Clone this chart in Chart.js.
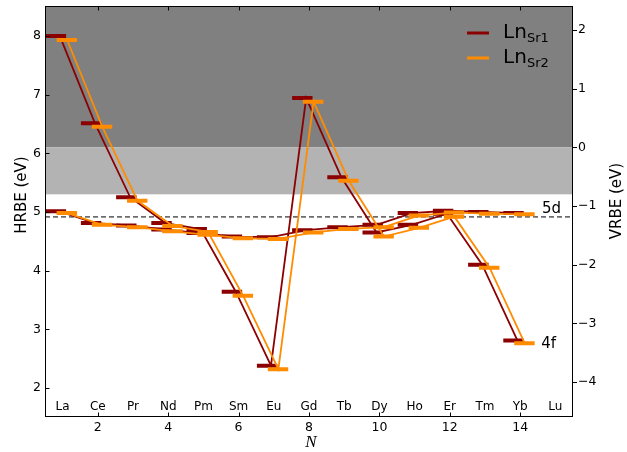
<!DOCTYPE html>
<html>
<head>
<meta charset="utf-8">
<script src="https://cdn.jsdelivr.net/npm/chart.js@4.4.1/dist/chart.umd.min.js"></script>
<style>
  body { margin: 0; background: #fff; }
  #wrap { width: 627px; height: 452px; }
</style>
</head>
<body>
<div id="wrap"><canvas id="chart" width="627" height="452"></canvas></div>
<script>
const elements = ['La', 'Ce', 'Pr', 'Nd', 'Pm', 'Sm', 'Eu', 'Gd', 'Tb', 'Dy', 'Ho', 'Er', 'Tm', 'Yb', 'Lu']
const nValues = [1, 2, 3, 4, 5, 6, 7, 8, 9, 10, 11, 12, 13, 14, 15]

// HRBE (eV), La..Yb (Lu has no level)
const sr1_4f = [8.00, 6.51, 5.25, 4.81, 4.71, 3.64, 2.38, 6.94, 5.59, 4.65, 4.78, 4.97, 4.10, 2.81]
const sr2_4f = [7.93, 6.45, 5.19, 4.76, 4.66, 3.57, 2.32, 6.88, 5.53, 4.58, 4.73, 4.92, 4.05, 2.76]
const sr1_5d = [5.01, 4.81, 4.77, 4.70, 4.64, 4.58, 4.57, 4.69, 4.74, 4.78, 4.98, 5.02, 5.00, 4.98]
const sr2_5d = [4.98, 4.78, 4.74, 4.67, 4.61, 4.55, 4.54, 4.65, 4.71, 4.74, 4.94, 4.99, 4.97, 4.96]

const nTicks = [2, 4, 6, 8, 10, 12, 14]
const hrbeTicks = [2, 3, 4, 5, 6, 7, 8]
const vrbeTicks = [-4, -3, -2, -1, 0, 1, 2]

const vacuumLevel = 6.1     // HRBE where VRBE = 0
const cbBottom = 5.3
const dashedLevel = 4.915

const hrbeMin = 1.505
const hrbeMax = 8.51

const RED = '#8b0000'
const ORANGE = '#ff8c00'

// short horizontal bars for each level
function barPoints(vals, lo, hi) {
    const pts = []
    vals.forEach((v, i) => {
        const n = nValues[i]
        pts.push({ x: n + lo, y: v }, { x: n + hi, y: v }, { x: n + hi, y: null })
    })
    return pts
}

function linePoints(vals, off) {
    return vals.map((v, i) => ({ x: nValues[i] + off, y: v }))
}

function lineSet(data, color, width, order) {
    return {
        data: data, borderColor: color, borderWidth: width, pointRadius: 0,
        fill: false, tension: 0, spanGaps: false, order: order, borderCapStyle: 'butt'
    }
}

const datasets = [
    Object.assign(lineSet([{ x: 0.5, y: dashedLevel }, { x: 15.5, y: dashedLevel }], '#000', 1, 10), { borderDash: [5, 3] }),
    lineSet(linePoints(sr1_4f, -0.08), RED, 1.8, 6),
    lineSet(linePoints(sr1_5d, -0.08), RED, 1.8, 6),
    lineSet(barPoints(sr1_4f, -0.48, 0.10), RED, 4, 5),
    lineSet(barPoints(sr1_5d, -0.48, 0.10), RED, 4, 5),
    lineSet(linePoints(sr2_4f, 0.13), ORANGE, 1.8, 4),
    lineSet(linePoints(sr2_5d, 0.13), ORANGE, 1.8, 4),
    lineSet(barPoints(sr2_4f, -0.17, 0.41), ORANGE, 4, 3),
    lineSet(barPoints(sr2_5d, -0.17, 0.41), ORANGE, 4, 3)
]

const decor = {
    id: 'decor',
    beforeDatasetsDraw(chart) {
        const { ctx, chartArea: a, scales } = chart
        const y = scales.y
        ctx.save()
        ctx.fillStyle = '#808080'
        ctx.fillRect(a.left, a.top, a.right - a.left, y.getPixelForValue(vacuumLevel) - a.top)
        ctx.fillStyle = '#b3b3b3'
        ctx.fillRect(a.left, y.getPixelForValue(vacuumLevel), a.right - a.left,
            y.getPixelForValue(cbBottom) - y.getPixelForValue(vacuumLevel))
        ctx.restore()
    },
    afterDraw(chart) {
        const { ctx, chartArea: a, scales } = chart
        const x = scales.x, y = scales.y, y2 = scales.y2
        ctx.save()
        ctx.strokeStyle = '#000'
        ctx.lineWidth = 1
        ctx.strokeRect(a.left + 0.5, a.top + 0.5, a.right - a.left - 1, a.bottom - a.top - 1)

        // ticks
        ctx.beginPath()
        hrbeTicks.forEach(v => {
            const py = Math.round(y.getPixelForValue(v)) + 0.5
            ctx.moveTo(a.left, py); ctx.lineTo(a.left + 4.5, py)
        })
        nTicks.forEach(v => {
            const px = Math.round(x.getPixelForValue(v)) + 0.5
            ctx.moveTo(px, a.bottom); ctx.lineTo(px, a.bottom - 4.5)
            ctx.moveTo(px, a.top); ctx.lineTo(px, a.top + 4.5)
        })
        vrbeTicks.forEach(v => {
            const py = Math.round(y2.getPixelForValue(v)) + 0.5
            ctx.moveTo(a.right, py); ctx.lineTo(a.right + 4, py)
        })
        ctx.stroke()

        // element names
        ctx.fillStyle = '#000'
        ctx.font = '12px "DejaVu Sans"'
        ctx.textAlign = 'center'
        ctx.textBaseline = 'middle'
        elements.forEach((el, i) => {
            ctx.fillText(el, x.getPixelForValue(nValues[i]), y.getPixelForValue(1.68))
        })

        // level labels
        ctx.font = '15px "DejaVu Sans"'
        ctx.textAlign = 'left'
        ctx.fillText('5d', x.getPixelForValue(14.62), y.getPixelForValue(5.05))
        ctx.fillText('4f', x.getPixelForValue(14.6), y.getPixelForValue(2.75))

        // legend
        const items = [[RED, 'Sr1', 33], [ORANGE, 'Sr2', 58]]
        items.forEach(([c, sub, ly]) => {
            ctx.strokeStyle = c
            ctx.lineWidth = 3
            ctx.beginPath()
            ctx.moveTo(467, ly); ctx.lineTo(489, ly)
            ctx.stroke()
            ctx.textBaseline = 'alphabetic'
            ctx.font = '20px "DejaVu Sans"'
            ctx.fillText('Ln', 503, ly + 4.5)
            ctx.font = '13px "DejaVu Sans"'
            ctx.fillText(sub, 527, ly + 9)
        })

        // axis titles
        ctx.textAlign = 'center'
        ctx.textBaseline = 'middle'
        ctx.font = '15px "DejaVu Sans"'
        ctx.save()
        ctx.translate(22, 195)
        ctx.rotate(-Math.PI / 2)
        ctx.fillText('HRBE (eV)', 0, 0)
        ctx.restore()
        ctx.save()
        ctx.translate(617, 201)
        ctx.rotate(-Math.PI / 2)
        ctx.fillText('VRBE (eV)', 0, 0)
        ctx.restore()
        ctx.font = 'italic 17px "Liberation Serif"'
        ctx.fillText('N', 311, 443)
        ctx.restore()
    }
}

const tickFont = { family: 'DejaVu Sans', size: 12.5 }

function noPad(s) {
    s.paddingTop = 0; s.paddingBottom = 0; s.paddingLeft = 0; s.paddingRight = 0
}

new Chart(document.getElementById('chart'), {
    type: 'line',
    data: { datasets: datasets },
    options: {
        responsive: false,
        animation: false,
        layout: { padding: { top: 6, left: 0, right: 0, bottom: 0 } },
        plugins: { legend: { display: false }, tooltip: { enabled: false } },
        scales: {
            x: {
                type: 'linear', position: 'bottom', min: 0.5, max: 15.5,
                grid: { display: false, drawTicks: false }, border: { display: false },
                afterBuildTicks: s => { s.ticks = nTicks.map(v => ({ value: v })) },
                afterFit: s => { s.height = 35; noPad(s) },
                ticks: { color: '#000', font: tickFont, padding: 3, maxRotation: 0 }
            },
            y: {
                type: 'linear', position: 'left', min: hrbeMin, max: hrbeMax,
                grid: { display: false, drawTicks: false }, border: { display: false },
                afterBuildTicks: s => { s.ticks = hrbeTicks.map(v => ({ value: v })) },
                afterFit: s => { s.width = 45; noPad(s) },
                ticks: { color: '#000', font: tickFont, padding: 4 }
            },
            y2: {
                type: 'linear', position: 'right',
                min: hrbeMin - vacuumLevel, max: hrbeMax - vacuumLevel,
                grid: { display: false, drawTicks: false }, border: { display: false },
                afterBuildTicks: s => { s.ticks = vrbeTicks.map(v => ({ value: v })) },
                afterFit: s => { s.width = 54; noPad(s) },
                ticks: {
                    color: '#000', font: tickFont, padding: 5,
                    callback: v => String(v).replace('-', '\u2212')
                }
            }
        }
    },
    plugins: [decor]
})
</script>
</body>
</html>
